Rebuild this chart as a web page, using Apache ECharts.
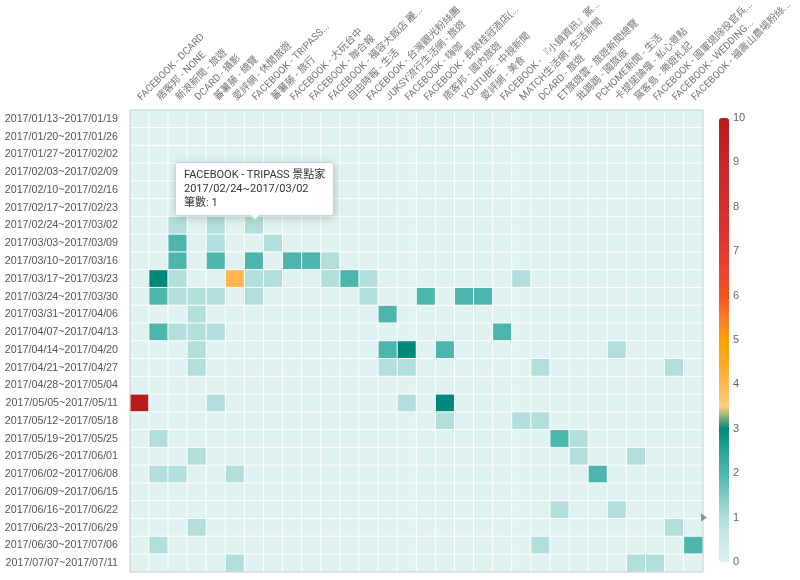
<!DOCTYPE html>
<html>
<head>
<meta charset="utf-8">
<title>來源 × 週 筆數</title>
<script src="https://cdn.jsdelivr.net/npm/echarts@6/dist/echarts.min.js"></script>
<style>
html, body { margin: 0; padding: 0; background: #fff; }
#main { width: 800px; height: 580px; }
</style>
</head>
<body>
<div id="main"></div>
<script>
var weeks = [
  '2017/01/13~2017/01/19', '2017/01/20~2017/01/26', '2017/01/27~2017/02/02',
  '2017/02/03~2017/02/09', '2017/02/10~2017/02/16', '2017/02/17~2017/02/23',
  '2017/02/24~2017/03/02', '2017/03/03~2017/03/09', '2017/03/10~2017/03/16',
  '2017/03/17~2017/03/23', '2017/03/24~2017/03/30', '2017/03/31~2017/04/06',
  '2017/04/07~2017/04/13', '2017/04/14~2017/04/20', '2017/04/21~2017/04/27',
  '2017/04/28~2017/05/04', '2017/05/05~2017/05/11', '2017/05/12~2017/05/18',
  '2017/05/19~2017/05/25', '2017/05/26~2017/06/01', '2017/06/02~2017/06/08',
  '2017/06/09~2017/06/15', '2017/06/16~2017/06/22', '2017/06/23~2017/06/29',
  '2017/06/30~2017/07/06', '2017/07/07~2017/07/11'
];

var sources = [
  'FACEBOOK - DCARD', '痞客邦 - NONE', '新浪新聞 - 旅遊', 'DCARD - 攝影',
  '蕃薯藤 - 總覽', '愛評網 - 休閒旅遊', 'FACEBOOK - TRIPASS 景點家', '蕃薯藤 - 旅行',
  'FACEBOOK - 大玩台中', 'FACEBOOK - 聯合報', 'FACEBOOK - 福容大飯店 麗寶樂園',
  '自由時報 - 生活', 'FACEBOOK - 台灣觀光粉絲團', 'JUKSY流行生活網 - 旅遊',
  'FACEBOOK - 嗨咖', 'FACEBOOK - 長榮桂冠酒店(台中)', '痞客邦 - 國內旅遊',
  'YOUTUBE - 中視新聞', '愛評網 - 美食', 'FACEBOOK - 『小鎮資訊』案內所',
  'MATCH生活網 - 生活新聞', 'DCARD - 旅遊', 'ET旅遊雲 - 旅遊新聞總覽',
  '批踢踢 - 國旅版', 'PCHOME新聞 - 生活', '卡提諾論壇 - 私心景點', '窩客島 - 樂遊札記',
  'FACEBOOK - 國軍退除役官兵輔導委員會', 'FACEBOOK - WEDDING DAY',
  'FACEBOOK - 福壽山農場粉絲團'
];

// [來源索引, 週索引, 筆數]；未列出的格子為 0
var counts = [
  [2, 6, 1], [4, 6, 1], [6, 6, 1],
  [2, 7, 2], [4, 7, 1], [7, 7, 1],
  [2, 8, 2], [4, 8, 2], [6, 8, 2], [8, 8, 2], [9, 8, 2], [10, 8, 1],
  [1, 9, 3], [2, 9, 1], [5, 9, 4], [6, 9, 1], [7, 9, 1], [10, 9, 1], [11, 9, 2], [12, 9, 1], [20, 9, 1],
  [1, 10, 2], [2, 10, 1], [3, 10, 1], [4, 10, 1], [6, 10, 1], [12, 10, 1], [15, 10, 2], [17, 10, 2], [18, 10, 2],
  [3, 11, 1], [13, 11, 2],
  [1, 12, 2], [2, 12, 1], [3, 12, 1], [4, 12, 1], [19, 12, 2],
  [3, 13, 1], [13, 13, 2], [14, 13, 3], [16, 13, 2], [25, 13, 1],
  [3, 14, 1], [13, 14, 1], [14, 14, 1], [21, 14, 1], [28, 14, 1],
  [0, 16, 10], [4, 16, 1], [14, 16, 1], [16, 16, 3],
  [16, 17, 1], [20, 17, 1], [21, 17, 1],
  [1, 18, 1], [22, 18, 2], [23, 18, 1],
  [3, 19, 1], [23, 19, 1], [26, 19, 1],
  [1, 20, 1], [2, 20, 1], [5, 20, 1], [24, 20, 2],
  [22, 22, 1], [25, 22, 1],
  [3, 23, 1], [28, 23, 1],
  [1, 24, 1], [21, 24, 1], [29, 24, 2],
  [5, 25, 1], [26, 25, 1], [27, 25, 1]
];

// 滑鼠停留的格子（提示框所指）
var hoverCell = [6, 6];

var scaleColors = [
  '#e0f2f1', '#cbe9e6', '#b2dfdb', '#80cbc4', '#4db6ac', '#26a69a', '#00897b',
  '#ffcc80', '#ffb74d', '#ffa726', '#ffa000', '#ff7b2c', '#f4511e', '#ec4630',
  '#e53935', '#dc3331', '#d32f2f', '#cc2b2b', '#c62828', '#bf2222', '#b71c1c'
];

var font = "'Liberation Sans', Arial, 'Noto Sans CJK TC', sans-serif";
var capsFont = "Roboto, 'Noto Sans CJK TC', sans-serif";

var lookup = {};
counts.forEach(function (c) { lookup[c[0] + '_' + c[1]] = c[2]; });
var cells = [];
for (var r = 0; r < weeks.length; r++) {
  for (var s = 0; s < sources.length; s++) {
    cells.push([s, r, lookup[s + '_' + r] || 0]);
  }
}
var hoverIndex = hoverCell[1] * sources.length + hoverCell[0];
var hoverValue = cells[hoverIndex][2];

var chart = echarts.init(document.getElementById('main'));

var option = {
  animation: false,
  textStyle: { fontFamily: font },
  tooltip: {
    trigger: 'item',
    position: 'top',
    showDelay: 0,
    transitionDuration: 0,
    alwaysShowContent: true,
    padding: [5, 8],
    textStyle: { fontSize: 11, color: '#333', fontFamily: capsFont },
    extraCssText: 'line-height:14px;border-radius:3px;margin-top:10px;',
    formatter: function (p) {
      if (p.seriesIndex !== 0) return '';
      return sources[p.value[0]] + '<br/>' + weeks[p.value[1]] + '<br/>筆數: ' + p.value[2];
    }
  },
  grid: [
    { left: 130, right: 97, top: 110, bottom: 8, show: true, z: 3,
      outerBoundsMode: 'none',
      borderColor: '#ccc', borderWidth: 1, backgroundColor: 'transparent' },
    { left: 709, width: 10, top: 118, height: 444, outerBoundsMode: 'none' }
  ],
  xAxis: [
    {
      type: 'category',
      data: sources,
      position: 'top',
      axisLine: { show: false },
      axisTick: { length: 8, lineStyle: { color: '#ccc' } },
      axisLabel: {
        interval: 0,
        rotate: -45,
        color: '#777',
        fontSize: 10,
        fontFamily: capsFont,
        margin: 11,
        formatter: function (v) {
          return v.length > 18 ? v.slice(0, 18) + '...' : v;
        }
      }
    },
    { type: 'value', gridIndex: 1, min: 0, max: 1, show: false }
  ],
  yAxis: [
    {
      type: 'category',
      data: weeks,
      inverse: true,
      axisLine: { show: false },
      axisTick: { show: false },
      axisLabel: { color: '#555', fontSize: 10.7, margin: 12 }
    },
    {
      type: 'value',
      gridIndex: 1,
      position: 'right',
      min: 0,
      max: 10,
      interval: 1,
      z: 10,
      axisLine: { show: false },
      axisTick: { show: false },
      axisLabel: { color: '#666', fontSize: 11, margin: 14 },
      splitLine: { show: true, lineStyle: { color: 'rgba(255,255,255,0.85)', width: 1 } }
    }
  ],
  visualMap: {
    type: 'continuous',
    seriesIndex: 0,
    min: 0,
    max: 10,
    calculable: false,
    hoverLink: false,
    orient: 'vertical',
    left: 704,
    top: 103,
    itemWidth: 10,
    itemHeight: 444,
    inRange: { color: scaleColors }
  },
  series: [
    {
      type: 'heatmap',
      data: cells,
      itemStyle: { borderColor: '#fff', borderWidth: 1 },
      emphasis: { disabled: true }
    },
    {
      type: 'scatter',
      xAxisIndex: 1,
      yAxisIndex: 1,
      data: [[0, hoverValue]],
      symbol: 'triangle',
      symbolRotate: -90,
      symbolSize: [8, 6],
      symbolOffset: [-5, 0],
      clip: false,
      silent: true,
      z: 20,
      itemStyle: { color: '#777' },
      tooltip: { show: false }
    }
  ]
};

chart.setOption(option);
chart.dispatchAction({ type: 'showTip', seriesIndex: 0, dataIndex: hoverIndex });
</script>
</body>
</html>
